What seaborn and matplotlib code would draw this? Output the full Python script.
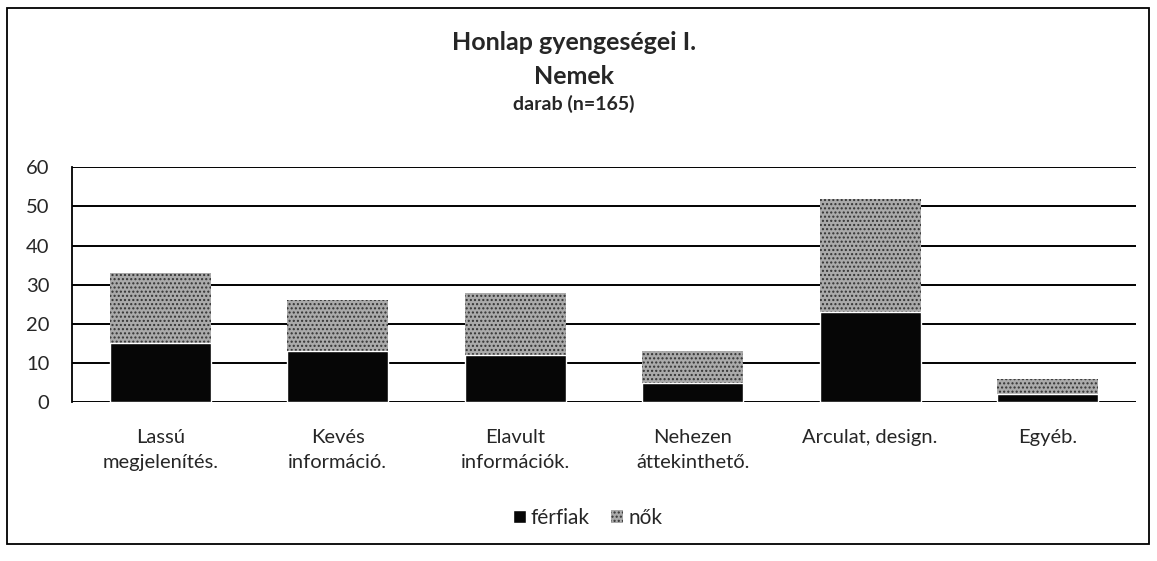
import pandas as pd
import seaborn as sns
import matplotlib.pyplot as plt
from matplotlib.patches import Rectangle, Patch

# data
categories = ["Lassú\nmegjelenítés.", "Kevés\ninformáció.", "Elavult\ninformációk.",
              "Nehezen\náttekinthető.", "Arculat, design.", "Egyéb."]
ferfiak = [15, 13, 12, 5, 23, 2]
nok = [18, 13, 16, 8, 29, 4]
yticks = [0, 10, 20, 30, 40, 50, 60]

df = pd.DataFrame({"kategoria": categories, "férfiak": ferfiak, "nők": nok})
df["osszes"] = df["férfiak"] + df["nők"]

sns.set_theme(style="white")
plt.rcParams["font.family"] = ["Lato", "DejaVu Sans"]

fig = plt.figure(figsize=(11.57, 5.61), dpi=100)
ax = fig.add_axes([0.062, 0.283, 0.920, 0.419])

# gridlines behind the bars
for t in yticks:
    ax.axhline(t, color="black", lw=1.4, zorder=0)

# stacked bars: total (gray) underneath, férfiak (black) on top
sns.barplot(data=df, x="kategoria", y="osszes", color="#aaaaaa", width=0.57,
            saturation=1, ax=ax, zorder=2)
for p in ax.patches:
    p.set_hatch("....")
    p.set_edgecolor("#333333")
    p.set_linewidth(0)
sns.barplot(data=df, x="kategoria", y="férfiak", color="#060606", width=0.57,
            saturation=1, ax=ax, zorder=3)

ax.set_ylim(0, 60)
ax.set_xlim(-0.5, len(categories) - 0.5)
ax.set_yticks(yticks)
ax.set_xlabel("")
ax.set_ylabel("")
ax.tick_params(axis="y", labelsize=14.5, pad=16, length=0)
ax.tick_params(axis="x", labelsize=14.5, pad=19, length=0)
for s in ax.spines.values():
    s.set_visible(False)
ax.spines["left"].set_visible(True)
ax.spines["left"].set_color("black")
ax.spines["left"].set_linewidth(1.3)

fig.text(0.496, 0.925, "Honlap gyengeségei I.", ha="center", va="center",
         fontsize=18, fontweight="bold")
fig.text(0.496, 0.863, "Nemek", ha="center", va="center",
         fontsize=18, fontweight="bold")
fig.text(0.496, 0.815, "darab (n=165)", ha="center", va="center",
         fontsize=14, fontweight="bold")

handles = [Patch(facecolor="#060606", label="férfiak"),
           Patch(facecolor="#aaaaaa", hatch="....", edgecolor="#333333", lw=0, label="nők")]
fig.legend(handles=handles, loc="center", bbox_to_anchor=(0.508, 0.077), ncol=2,
           frameon=False, fontsize=15, handlelength=0.6, handleheight=0.6,
           handletextpad=0.25, columnspacing=1.0)

# outer chart frame
fig.patches.append(Rectangle((0.006, 0.030), 0.987, 0.955, transform=fig.transFigure,
                             fill=False, edgecolor="black", lw=1.3))

# wider spacing between the two lines of the category labels
fig.canvas.draw()
for lbl in ax.get_xticklabels():
    lbl.set_linespacing(1.6)

fig.savefig("out.png", dpi=100)
